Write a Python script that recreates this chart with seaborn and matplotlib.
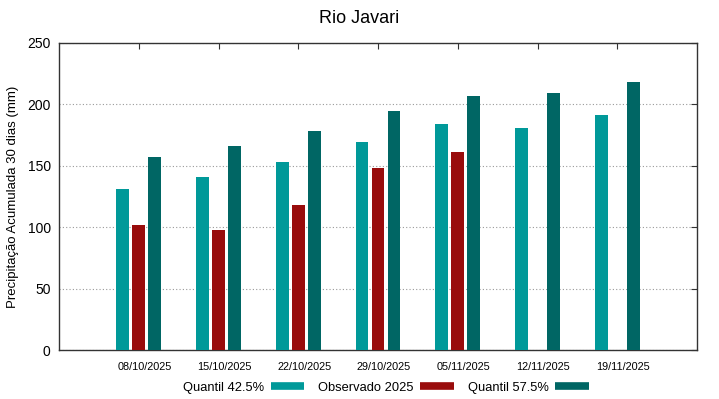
import pandas as pd
import numpy as np
import matplotlib
matplotlib.use("Agg")
import matplotlib.pyplot as plt
import matplotlib.transforms as mtransforms
from matplotlib.lines import Line2D
import seaborn as sns

sns.set_style("white")
plt.rcParams["font.family"] = ["Liberation Sans", "DejaVu Sans"]
plt.rcParams["text.color"] = "black"
plt.rcParams["axes.labelcolor"] = "black"
plt.rcParams["xtick.color"] = "black"
plt.rcParams["ytick.color"] = "black"

# Data
datas = ["08/10/2025", "15/10/2025", "22/10/2025", "29/10/2025",
         "05/11/2025", "12/11/2025", "19/11/2025"]
quantil_425 = [131, 141, 153, 169, 184, 181, 191]
observado = [102, 98, 118, 148, 161, np.nan, np.nan]
quantil_575 = [157, 166, 178, 195, 207, 209, 218]

series_names = ["Quantil 42.5%", "Observado 2025", "Quantil 57.5%"]
colors = ["#009999", "#990c0c", "#006664"]

df = pd.DataFrame({
    "data": datas * 3,
    "valor": quantil_425 + observado + quantil_575,
    "serie": np.repeat(series_names, len(datas)),
})

fig = plt.figure(figsize=(7.19, 3.99), dpi=100)
ax = fig.add_axes([59 / 719, 1 - 350 / 399, 638 / 719, 307 / 399])

sns.barplot(data=df, x="data", y="valor", hue="serie", hue_order=series_names,
            palette=colors, width=0.6, gap=0.2, errorbar=None, legend=False,
            saturation=1, linewidth=0, ax=ax, zorder=3)

ax.set_xlim(-1, 7)
ax.set_ylim(0, 250)
ax.set_yticks([0, 50, 100, 150, 200, 250])
ax.yaxis.grid(True, linestyle=(0, (1, 2)), color="#999999", linewidth=0.8, zorder=0)
ax.xaxis.grid(False)

for s in ax.spines.values():
    s.set_color("#333333")
    s.set_linewidth(1.0)

ax.tick_params(axis="both", direction="in", length=4, color="#333333",
               top=True, right=True)
ax.tick_params(axis="x", labelsize=7.8, pad=9)
ax.tick_params(axis="y", labelsize=10, pad=6)

# gnuplot-style labels sit slightly right of their tick
shift = mtransforms.ScaledTranslation(6 / 100, 0, fig.dpi_scale_trans)
for lbl in ax.get_xticklabels():
    lbl.set_transform(lbl.get_transform() + shift)

ax.set_xlabel("")
ax.set_ylabel("Precipitação Acumulada 30 dias (mm)", fontsize=9.5, labelpad=6)
fig.suptitle("Rio Javari", fontsize=13, y=0.975)

handles = [Line2D([0], [0], color=c, linewidth=5.5, solid_capstyle="butt")
           for c in colors]
fig.legend(handles, series_names, loc="center", bbox_to_anchor=(386 / 719, 0.028),
           ncol=3, frameon=False, markerfirst=False, fontsize=9.3,
           handlelength=2.6, handletextpad=0.5, columnspacing=1.1)

fig.savefig("out.png", dpi=100)
